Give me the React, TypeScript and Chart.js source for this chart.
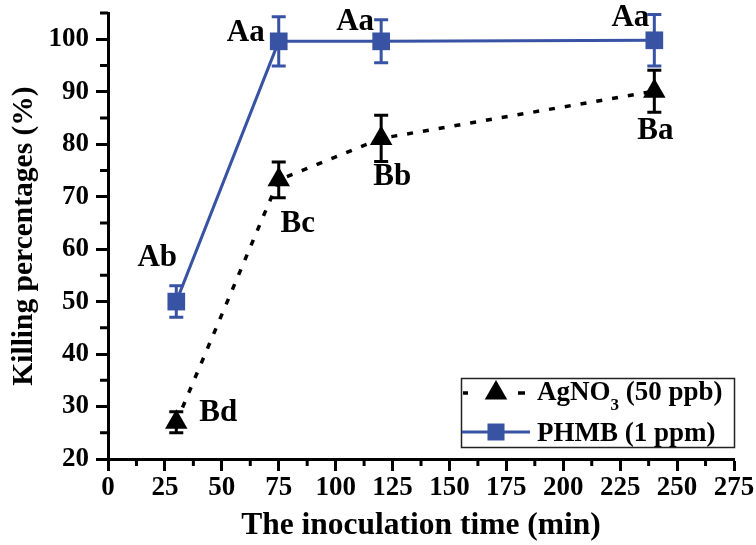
import React, { useEffect, useRef } from 'react';
import { Chart, registerables } from 'chart.js';

Chart.register(...registerables);

// ---- data ----
const TIMES = [30, 75, 120, 240];
const AGNO3_MEAN = [27.0, 73.2, 81.1, 90.1];
const AGNO3_SD = [2.0, 3.4, 4.4, 4.0];
const PHMB_MEAN = [50.0, 99.6, 99.6, 99.8];
const PHMB_SD = [3.0, 4.7, 4.1, 4.9];
const AGNO3_LETTERS = ['Bd', 'Bc', 'Bb', 'Ba'];
const PHMB_LETTERS = ['Ab', 'Aa', 'Aa', 'Aa'];

const X_MIN = 0;
const X_MAX = 275;
const X_STEP = 25;
const Y_MIN = 20;
const Y_MAX = 105;
const Y_STEP = 10;
const Y_TICKS = [20, 30, 40, 50, 60, 70, 80, 90, 100];

const X_TITLE = 'The inoculation time (min)';
const Y_TITLE = 'Killing percentages (%)';
const LEGEND_AG = ['AgNO', '3', ' (50 ppb)'];
const LEGEND_PHMB = 'PHMB (1 ppm)';

// ---- styles ----
const FONT = '"Liberation Serif", "Times New Roman", Times, serif';
const BLUE = '#3953a4';
const BLACK = '#000000';
// letter label offsets (px) from each point
const AGNO3_LETTER_OFFSETS = [[42, -9], [19, 44], [11, 39], [1, 40]];
const PHMB_LETTER_OFFSETS = [[-19, -44], [-33, -8], [-26, -19], [-24, -22]];

const errorBarsPlugin = {
  id: 'errorBars',
  beforeDatasetsDraw(chart: any) {
    const { ctx } = chart;
    const y = chart.scales.y;
    const sds = [AGNO3_SD, PHMB_SD];
    const means = [AGNO3_MEAN, PHMB_MEAN];
    const colors = [BLACK, BLUE];
    ctx.save();
    for (let d = 0; d < 2; d++) {
      const meta = chart.getDatasetMeta(d);
      ctx.strokeStyle = colors[d];
      ctx.lineWidth = 3;
      meta.data.forEach((pt: any, i: number) => {
        const yt = y.getPixelForValue(means[d][i] + sds[d][i]);
        const yb = y.getPixelForValue(means[d][i] - sds[d][i]);
        const x = pt.x;
        ctx.beginPath();
        ctx.moveTo(x, yt);
        ctx.lineTo(x, yb);
        ctx.moveTo(x - 7, yt);
        ctx.lineTo(x + 7, yt);
        ctx.moveTo(x - 7, yb);
        ctx.lineTo(x + 7, yb);
        ctx.stroke();
      });
    }
    ctx.restore();
  },
};

const decorPlugin = {
  id: 'decor',
  afterDraw(chart: any) {
    const { ctx, chartArea } = chart;
    const xs = chart.scales.x;
    const ys = chart.scales.y;
    ctx.save();
    // minor ticks
    ctx.strokeStyle = BLACK;
    ctx.lineWidth = 3;
    ctx.beginPath();
    for (let v = X_MIN + X_STEP / 2; v < X_MAX; v += X_STEP) {
      const px = xs.getPixelForValue(v);
      ctx.moveTo(px, chartArea.bottom);
      ctx.lineTo(px, chartArea.bottom + 7);
    }
    for (let v = Y_MIN + Y_STEP / 2; v <= Y_MAX; v += Y_STEP) {
      const py = ys.getPixelForValue(v);
      ctx.moveTo(chartArea.left, py);
      ctx.lineTo(chartArea.left - 8, py);
    }
    ctx.stroke();

    // letter labels
    ctx.fillStyle = BLACK;
    ctx.font = `bold 31px ${FONT}`;
    ctx.textAlign = 'center';
    ctx.textBaseline = 'middle';
    const letters = [AGNO3_LETTERS, PHMB_LETTERS];
    const offs = [AGNO3_LETTER_OFFSETS, PHMB_LETTER_OFFSETS];
    for (let d = 0; d < 2; d++) {
      chart.getDatasetMeta(d).data.forEach((pt: any, i: number) => {
        ctx.fillText(letters[d][i], pt.x + offs[d][i][0], pt.y + offs[d][i][1]);
      });
    }

    // legend
    const right = chartArea.right;
    const bottom = chartArea.bottom - 12;
    const left = right - 273;
    const top = bottom - 69;
    ctx.lineWidth = 1.5;
    ctx.strokeStyle = '#222';
    ctx.strokeRect(left + 0.5, top + 0.5, right - left, bottom - top);
    const r1 = top + 15;
    const r2 = top + 54;
    const mx = left + 35;
    // row 1: dotted black + triangle
    ctx.strokeStyle = BLACK;
    ctx.lineWidth = 3.5;
    ctx.beginPath();
    ctx.moveTo(left + 2, r1);
    ctx.lineTo(left + 7, r1);
    ctx.moveTo(left + 57, r1);
    ctx.lineTo(left + 64, r1);
    ctx.stroke();
    ctx.fillStyle = BLACK;
    const tr = 13;
    ctx.beginPath();
    ctx.moveTo(mx, r1 - tr);
    ctx.lineTo(mx + Math.sin((2 * Math.PI) / 3) * tr, r1 + tr / 2);
    ctx.lineTo(mx - Math.sin((2 * Math.PI) / 3) * tr, r1 + tr / 2);
    ctx.closePath();
    ctx.fill();
    // row 2: blue line + square
    ctx.strokeStyle = BLUE;
    ctx.lineWidth = 3;
    ctx.beginPath();
    ctx.moveTo(left + 1, r2);
    ctx.lineTo(left + 69, r2);
    ctx.stroke();
    ctx.fillStyle = BLUE;
    ctx.fillRect(mx - 8.5, r2 - 8.5, 17, 17);
    // texts
    ctx.fillStyle = BLACK;
    ctx.textAlign = 'left';
    ctx.textBaseline = 'alphabetic';
    const tx = left + 76;
    ctx.font = `bold 27px ${FONT}`;
    ctx.fillText(LEGEND_AG[0], tx, top + 22);
    let w = ctx.measureText(LEGEND_AG[0]).width;
    ctx.font = `bold 17px ${FONT}`;
    ctx.fillText(LEGEND_AG[1], tx + w, top + 32);
    w += ctx.measureText(LEGEND_AG[1]).width;
    ctx.font = `bold 27px ${FONT}`;
    ctx.fillText(LEGEND_AG[2], tx + w, top + 22);
    ctx.fillText(LEGEND_PHMB, tx, top + 63);
    ctx.restore();
  },
};

export default function App() {
  const ref = useRef<HTMLCanvasElement | null>(null);
  useEffect(() => {
    if (!ref.current) return;
    const chart = new Chart(ref.current, {
      type: 'line',
      data: {
        datasets: [
          {
            label: 'AgNO3 (50 ppb)',
            data: TIMES.map((t, i) => ({ x: t, y: AGNO3_MEAN[i] })),
            borderColor: BLACK,
            backgroundColor: BLACK,
            borderWidth: 3.5,
            borderDash: [6, 10],
            pointStyle: 'triangle',
            pointRadius: 13,
            pointBorderWidth: 0,
            pointBackgroundColor: BLACK,
            tension: 0,
          },
          {
            label: 'PHMB (1 ppm)',
            data: TIMES.map((t, i) => ({ x: t, y: PHMB_MEAN[i] })),
            borderColor: BLUE,
            backgroundColor: BLUE,
            borderWidth: 3,
            pointStyle: 'rect',
            pointRadius: 12.5,
            pointBorderWidth: 0,
            pointBackgroundColor: BLUE,
            tension: 0,
          },
        ],
      },
      options: {
        animation: false,
        responsive: false,
        events: [],
        layout: { padding: { top: 12, right: 22, left: 0, bottom: 0 } },
        plugins: { legend: { display: false }, tooltip: { enabled: false } },
        scales: {
          x: {
            type: 'linear',
            min: X_MIN,
            max: X_MAX,
            ticks: {
              stepSize: X_STEP,
              color: BLACK,
              padding: 1,
              maxRotation: 0,
              autoSkip: false,
              font: { family: FONT, weight: 'bold', size: 27 },
            },
            grid: { display: true, drawOnChartArea: false, drawTicks: true, tickLength: 12, tickWidth: 3, tickColor: BLACK },
            border: { display: true, color: BLACK, width: 3 },
            title: {
              display: true,
              text: X_TITLE,
              color: BLACK,
              padding: { top: 0, bottom: 0 },
              font: { family: FONT, weight: 'bold', size: 31.5, lineHeight: 1.2 },
            },
            afterFit: (s: any) => {
              s.height = 86;
              s.paddingLeft = 0;
              s.paddingRight = 0;
            },
          },
          y: {
            type: 'linear',
            min: Y_MIN,
            max: Y_MAX,
            ticks: {
              stepSize: Y_STEP,
              color: BLACK,
              padding: 7,
              autoSkip: false,
              font: { family: FONT, weight: 'bold', size: 27 },
            },
            afterBuildTicks: (s: any) => {
              s.ticks = Y_TICKS.map((v) => ({ value: v }));
            },
            grid: { display: true, drawOnChartArea: false, drawTicks: true, tickLength: 12, tickWidth: 3, tickColor: BLACK },
            border: { display: true, color: BLACK, width: 3 },
            title: {
              display: true,
              text: Y_TITLE,
              color: BLACK,
              padding: { top: 7, bottom: 0 },
              font: { family: FONT, weight: 'bold', size: 29.5, lineHeight: 1.2 },
            },
            afterFit: (s: any) => {
              s.width = 108;
              s.paddingTop = 0;
              s.paddingBottom = 0;
            },
          },
        },
      },
      plugins: [errorBarsPlugin, decorPlugin],
    } as any);
    return () => chart.destroy();
  }, []);
  return (
    <div style={{ position: 'absolute', left: 0, top: 0, width: 756, height: 545, background: '#fff' }}>
      <canvas ref={ref} width={756} height={545} style={{ display: 'block', width: 756, height: 545 }} />
    </div>
  );
}
